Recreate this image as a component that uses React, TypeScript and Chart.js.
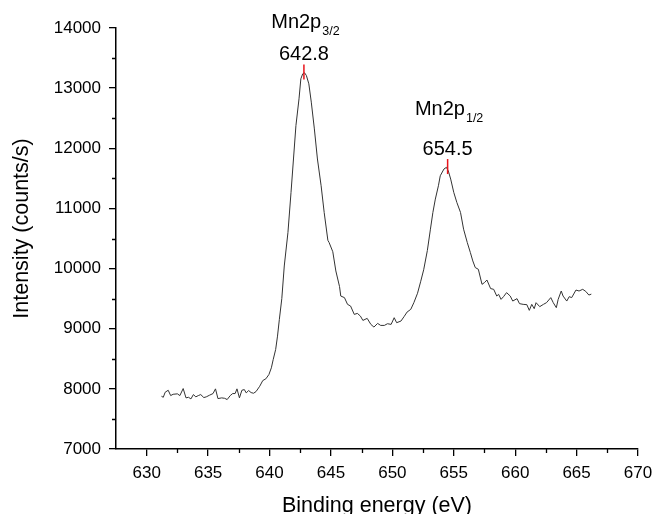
import React, { useEffect, useRef } from 'react';
import { Chart, registerables } from 'chart.js';

Chart.register(...registerables);

// Binding energy (eV)
const energies = [
  631.2, 631.35, 631.5, 631.75, 631.95, 632.15, 632.5, 632.7, 632.97, 633.2,
  633.4, 633.6, 633.8, 634.0, 634.2, 634.4, 634.65, 634.85, 635.1, 635.4,
  635.6, 635.8, 636.1, 636.35, 636.55, 636.8, 637.0, 637.2, 637.35, 637.55,
  637.75, 637.95, 638.1, 638.3, 638.5, 638.7, 638.9, 639.2, 639.45, 639.7,
  639.95, 640.15, 640.3, 640.5, 640.65, 640.8, 641.0, 641.2, 641.5, 641.75,
  641.95, 642.15, 642.4, 642.55, 642.7, 642.85, 643.0, 643.2, 643.4, 643.65,
  643.9, 644.2, 644.45, 644.75, 644.85, 645.15, 645.4, 645.7, 645.8, 646.1,
  646.35, 646.6, 646.9, 647.15, 647.4, 647.6, 647.95, 648.25, 648.5, 648.8,
  649.05, 649.35, 649.6, 649.9, 650.15, 650.35, 650.7, 650.95, 651.2, 651.5,
  651.75, 652.05, 652.3, 652.55, 652.85, 653.1, 653.3, 653.5, 653.75, 653.9,
  654.2, 654.4, 654.55, 654.75, 655.0, 655.25, 655.55, 655.8, 656.1, 656.35,
  656.55, 656.75, 657.0, 657.3, 657.5, 657.7, 658.0, 658.25, 658.5, 658.65,
  658.85, 659.05, 659.3, 659.6, 659.8, 660.15, 660.35, 660.65, 660.95, 661.15,
  661.35, 661.55, 661.7, 662.0, 662.3, 662.55, 662.9, 663.1, 663.35, 663.5,
  663.75, 663.9, 664.2, 664.4, 664.6, 664.95, 665.2, 665.5, 665.75, 666.0,
  666.2,
];

// Intensity (counts/s)
const intensities = [
  7877, 7860, 7943, 7977, 7888, 7910, 7917, 7888, 8005, 7850,
  7860, 7833, 7905, 7867, 7888, 7905, 7855, 7867, 7893, 7922,
  8000, 7838, 7850, 7843, 7822, 7888, 7922, 7922, 8000, 7850,
  7977, 7988, 7933, 7972, 7938, 7927, 7955, 8043, 8138, 8167,
  8238, 8350, 8488, 8655, 8877, 9155, 9500, 10043, 10600, 11267,
  11822, 12377, 12822, 13155, 13238, 13255, 13210, 13072, 12767, 12322,
  11822, 11377, 10933, 10470, 10433, 10280, 9960, 9700, 9543, 9517,
  9405, 9377, 9238, 9255, 9210, 9138, 9172, 9072, 9027, 9088,
  9055, 9055, 9083, 9072, 9183, 9100, 9127, 9200, 9277, 9322,
  9433, 9590, 9780, 9980, 10300, 10655, 10933, 11155, 11377, 11543,
  11655, 11683, 11627, 11488, 11267, 11100, 10933, 10655, 10433, 10267,
  10127, 10017, 9988, 9738, 9767, 9810, 9667, 9655, 9543, 9572,
  9488, 9533, 9600, 9543, 9460, 9500, 9417, 9405, 9400, 9305,
  9405, 9333, 9433, 9367, 9405, 9433, 9517, 9433, 9350, 9488,
  9627, 9543, 9460, 9533, 9517, 9643, 9627, 9655, 9620, 9560,
  9575,
];

const xTicks = [630, 635, 640, 645, 650, 655, 660, 665, 670];
const xMinorTicks = [632.5, 637.5, 642.5, 647.5, 652.5, 657.5, 662.5, 667.5];
const yTicks = [7000, 8000, 9000, 10000, 11000, 12000, 13000, 14000];
const yMinorTicks = [7500, 8500, 9500, 10500, 11500, 12500, 13500];

const peakEnergies = [642.8, 654.5];
const peakIntensities = [13250, 11680];
const peakNames = ['Mn2p', 'Mn2p'];
const peakSubscripts = ['3/2', '1/2'];
const peakLabels = ['642.8', '654.5'];

const xTitle = 'Binding energy (eV)';
const yTitle = 'Intensity (counts/s)';

const FONT = '"Liberation Sans", Arial, Helvetica, sans-serif';
const NAME_GAPS = [32.4, 40];

const overlayPlugin = {
  id: 'overlay',
  afterDraw(chart: any) {
    const ctx = chart.ctx;
    const xs = chart.scales.x;
    const ys = chart.scales.y;
    const area = chart.chartArea;
    ctx.save();

    // minor ticks
    ctx.strokeStyle = '#000';
    ctx.lineWidth = 1.3;
    ctx.beginPath();
    xMinorTicks.forEach((v) => {
      const px = Math.round(xs.getPixelForValue(v)) + 0.5;
      ctx.moveTo(px, area.bottom);
      ctx.lineTo(px, area.bottom + 4);
    });
    yMinorTicks.forEach((v) => {
      const py = Math.round(ys.getPixelForValue(v)) + 0.5;
      ctx.moveTo(area.left, py);
      ctx.lineTo(area.left - 4, py);
    });
    ctx.stroke();

    // peak markers and labels
    ctx.fillStyle = '#000';
    peakEnergies.forEach((e, i) => {
      const px = xs.getPixelForValue(e);
      const py = ys.getPixelForValue(peakIntensities[i]);
      ctx.strokeStyle = '#e8141b';
      ctx.lineWidth = 1.5;
      ctx.beginPath();
      ctx.moveTo(px, py - 8.5);
      ctx.lineTo(px, py + 6.5);
      ctx.stroke();

      const valueBase = py - 13;
      ctx.font = `20px ${FONT}`;
      ctx.textAlign = 'center';
      ctx.textBaseline = 'alphabetic';
      ctx.fillText(peakLabels[i], px, valueBase);

      const nameBase = valueBase - NAME_GAPS[i];
      ctx.font = `20px ${FONT}`;
      const wN = ctx.measureText(peakNames[i]).width;
      ctx.font = `12.5px ${FONT}`;
      const wS = ctx.measureText(peakSubscripts[i]).width;
      const total = wN + 1 + wS;
      const start = px + 1.5 - total / 2;
      ctx.textAlign = 'left';
      ctx.font = `20px ${FONT}`;
      ctx.fillText(peakNames[i], start, nameBase);
      ctx.font = `12.5px ${FONT}`;
      ctx.fillText(peakSubscripts[i], start + wN + 1, nameBase + 7.5);
    });

    // axis titles
    ctx.font = `21.5px ${FONT}`;
    ctx.textAlign = 'center';
    ctx.textBaseline = 'alphabetic';
    ctx.fillText(xTitle, (area.left + area.right) / 2, 512);

    ctx.translate(28, (area.top + area.bottom) / 2 - 10);
    ctx.rotate(-Math.PI / 2);
    ctx.fillText(yTitle, 0, 0);
    ctx.restore();
  },
};

function clearPadding(s: any) {
  s.paddingLeft = 0;
  s.paddingRight = 0;
  s.paddingTop = 0;
  s.paddingBottom = 0;
}

export default function App() {
  const canvasRef = useRef<HTMLCanvasElement | null>(null);

  useEffect(() => {
    const canvas = canvasRef.current;
    if (!canvas) return;
    const chart = new Chart(canvas, {
      type: 'line',
      data: {
        datasets: [
          {
            data: energies.map((e, i) => ({ x: e, y: intensities[i] })),
            borderColor: '#333333',
            borderWidth: 1,
            pointRadius: 0,
            tension: 0,
            fill: false,
          },
        ],
      },
      options: {
        responsive: false,
        animation: false,
        devicePixelRatio: 1,
        layout: { padding: { left: 0, top: 28, right: 17, bottom: 0 } },
        plugins: {
          legend: { display: false },
          tooltip: { enabled: false },
        },
        scales: {
          x: {
            type: 'linear',
            min: 627.5,
            max: 670,
            afterBuildTicks: (s: any) => {
              s.ticks = xTicks.map((v) => ({ value: v }));
            },
            afterFit: (s: any) => {
              s.height = 65;
              clearPadding(s);
            },
            grid: {
              drawOnChartArea: false,
              drawTicks: true,
              tickLength: 7,
              color: '#000',
              lineWidth: 1.3,
            },
            border: { display: true, color: '#000', width: 1.5 },
            ticks: {
              color: '#000',
              font: { family: FONT, size: 17 },
              padding: 7,
              maxRotation: 0,
              autoSkip: false,
              callback: (v: any) => String(v),
            },
          },
          y: {
            type: 'linear',
            min: 7000,
            max: 14000,
            afterBuildTicks: (s: any) => {
              s.ticks = yTicks.map((v) => ({ value: v }));
            },
            afterFit: (s: any) => {
              s.width = 116;
              clearPadding(s);
            },
            grid: {
              drawOnChartArea: false,
              drawTicks: true,
              tickLength: 7,
              color: '#000',
              lineWidth: 1.3,
            },
            border: { display: true, color: '#000', width: 1.5 },
            ticks: {
              color: '#000',
              font: { family: FONT, size: 17 },
              padding: 8,
              autoSkip: false,
              callback: (v: any) => String(v),
            },
          },
        },
      } as any,
      plugins: [overlayPlugin],
    });
    return () => chart.destroy();
  }, []);

  return (
    <div style={{ position: 'absolute', left: 0, top: 0, width: 655, height: 514, background: '#fff' }}>
      <canvas ref={canvasRef} width={655} height={514} style={{ display: 'block', width: 655, height: 514 }} />
    </div>
  );
}
